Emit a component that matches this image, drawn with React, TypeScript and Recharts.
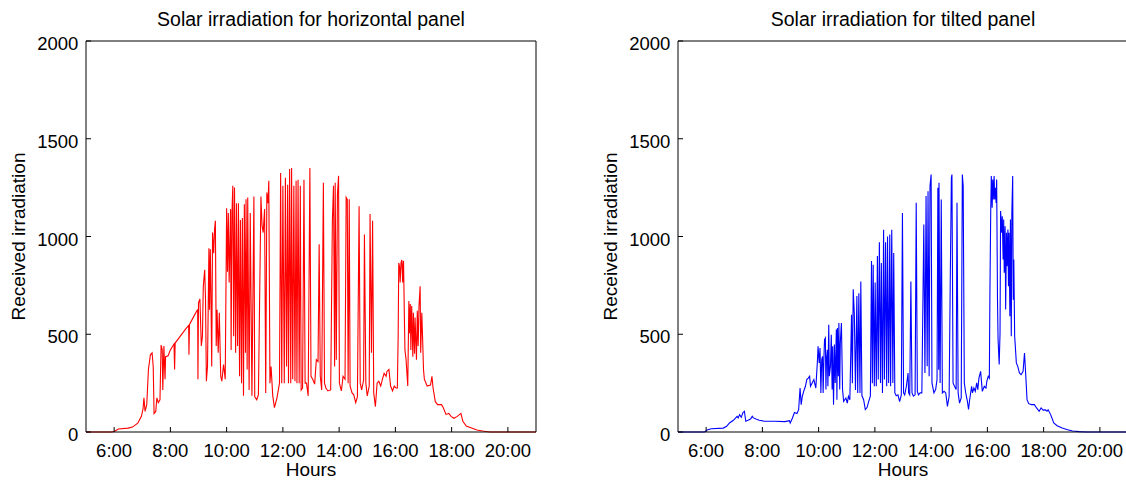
import { LineChart, Line, XAxis, YAxis } from "recharts";

const HOUR_TICKS = [6, 8, 10, 12, 14, 16, 18, 20];
const IRRADIATION_TICKS = [0, 500, 1000, 1500, 2000];

// horizontal panel: sample times (decimal hours) and received irradiation
const horizontalHours = [
  5.0, 5.9, 6.0, 6.15, 6.5, 6.65, 6.84, 6.97, 7.03, 7.06, 7.1, 7.16, 7.22, 7.29, 7.35, 7.39,
  7.42, 7.48, 7.52, 7.57, 7.63, 7.67, 7.71, 7.73, 7.77, 7.81, 7.83, 7.92, 8.0, 8.13, 8.15, 8.17,
  8.3, 8.56, 8.65, 8.66, 8.68, 8.81, 8.94, 8.97, 8.98, 9.0, 9.05, 9.1, 9.14, 9.17, 9.22, 9.25,
  9.28, 9.32, 9.37, 9.39, 9.42, 9.44, 9.47, 9.5, 9.54, 9.57, 9.6, 9.63, 9.66, 9.7, 9.74, 9.79,
  9.83, 9.89, 9.95, 10.0, 10.03, 10.06, 10.09, 10.14, 10.16, 10.19, 10.22, 10.25, 10.28, 10.32, 10.35, 10.39,
  10.42, 10.46, 10.49, 10.53, 10.56, 10.6, 10.63, 10.67, 10.69, 10.73, 10.75, 10.8, 10.84, 10.9, 10.97, 11.0,
  11.07, 11.13, 11.22, 11.26, 11.3, 11.35, 11.39, 11.43, 11.47, 11.5, 11.54, 11.58, 11.64, 11.7, 11.79, 11.88,
  11.92, 11.96, 12.0, 12.05, 12.09, 12.13, 12.17, 12.2, 12.24, 12.28, 12.31, 12.35, 12.39, 12.43, 12.47, 12.5,
  12.54, 12.58, 12.62, 12.65, 12.7, 12.75, 12.79, 12.84, 12.9, 12.96, 13.0, 13.06, 13.13, 13.19, 13.25, 13.29,
  13.33, 13.38, 13.44, 13.48, 13.53, 13.6, 13.7, 13.76, 13.8, 13.84, 13.86, 13.9, 13.94, 13.98, 14.01, 14.08,
  14.14, 14.21, 14.25, 14.29, 14.32, 14.36, 14.39, 14.46, 14.52, 14.59, 14.65, 14.71, 14.75, 14.8, 14.87, 14.9,
  14.95, 15.0, 15.07, 15.1, 15.15, 15.19, 15.23, 15.29, 15.35, 15.41, 15.48, 15.54, 15.6, 15.67, 15.7, 15.77,
  15.83, 15.9, 15.96, 16.02, 16.07, 16.1, 16.12, 16.15, 16.17, 16.2, 16.23, 16.26, 16.28, 16.29, 16.32, 16.34,
  16.38, 16.44, 16.48, 16.5, 16.53, 16.55, 16.58, 16.62, 16.64, 16.68, 16.7, 16.75, 16.78, 16.81, 16.84, 16.88,
  16.9, 16.94, 16.97, 17.0, 17.03, 17.13, 17.25, 17.3, 17.34, 17.42, 17.5, 17.64, 17.7, 17.8, 17.9, 17.98,
  18.08, 18.2, 18.33, 18.4, 18.52, 18.71, 18.9, 19.1, 19.35, 21.0,
];
const horizontalIrradiation = [
  0, 0, 3, 15, 20, 25, 45, 80, 120, 175, 105, 140, 320, 395, 405, 335,
  95, 105, 175, 150, 165, 445, 420, 215, 440, 270, 385, 390, 420, 450, 320, 455,
  480, 530, 545, 395, 550, 585, 620, 625, 270, 660, 680, 440, 490, 745, 830, 675,
  260, 335, 940, 625, 935, 730, 335, 1020, 915, 1035, 1080, 440, 625, 405, 610, 285,
  260, 345, 270, 1145, 820, 1120, 765, 1140, 420, 1120, 1260, 490, 1250, 405, 1170, 440,
  1170, 285, 1085, 250, 1095, 185, 1165, 405, 1190, 320, 1200, 215, 1120, 185, 1205, 180,
  165, 190, 1205, 1055, 1020, 1140, 200, 1225, 1170, 1285, 250, 335, 185, 125, 175, 250,
  1325, 250, 1260, 250, 1300, 335, 1265, 250, 1345, 250, 1350, 270, 1260, 260, 1285, 250,
  1290, 250, 1260, 215, 225, 1290, 250, 250, 185, 1350, 285, 270, 245, 370, 360, 960,
  285, 215, 1275, 250, 225, 210, 215, 1080, 1260, 335, 1275, 370, 1215, 1310, 250, 210,
  285, 270, 1200, 1190, 250, 1190, 235, 200, 190, 150, 180, 1155, 250, 215, 265, 1010,
  250, 185, 235, 1115, 405, 1080, 200, 130, 250, 260, 235, 270, 300, 285, 310, 320,
  235, 210, 235, 225, 225, 505, 865, 845, 765, 865, 880, 765, 865, 875, 590, 420,
  370, 235, 670, 505, 655, 420, 645, 385, 610, 400, 585, 370, 620, 440, 645, 745,
  405, 610, 470, 320, 270, 235, 240, 285, 225, 155, 140, 140, 125, 90, 95, 80,
  70, 80, 95, 55, 30, 20, 10, 5, 0, 0,
];

// tilted panel: sample times (decimal hours) and received irradiation
const tiltedHours = [
  5.0, 5.94, 6.06, 6.18, 6.61, 6.73, 6.83, 6.97, 7.1, 7.14, 7.19, 7.25, 7.31, 7.36, 7.41, 7.49,
  7.58, 7.64, 7.68, 7.77, 7.89, 8.07, 8.43, 8.8, 8.96, 8.99, 9.07, 9.14, 9.23, 9.29, 9.34, 9.38,
  9.42, 9.47, 9.53, 9.58, 9.63, 9.68, 9.71, 9.77, 9.83, 9.9, 9.96, 9.98, 10.02, 10.05, 10.08, 10.11,
  10.14, 10.16, 10.19, 10.21, 10.24, 10.26, 10.28, 10.31, 10.33, 10.36, 10.38, 10.42, 10.45, 10.48, 10.5, 10.53,
  10.56, 10.59, 10.63, 10.65, 10.67, 10.7, 10.72, 10.75, 10.77, 10.81, 10.85, 10.89, 10.97, 11.02, 11.06, 11.11,
  11.17, 11.2, 11.23, 11.27, 11.31, 11.36, 11.39, 11.43, 11.47, 11.5, 11.54, 11.6, 11.66, 11.72, 11.78, 11.84,
  11.88, 11.91, 11.94, 11.98, 12.01, 12.05, 12.09, 12.12, 12.16, 12.2, 12.23, 12.27, 12.31, 12.34, 12.38, 12.42,
  12.45, 12.49, 12.53, 12.56, 12.6, 12.64, 12.67, 12.71, 12.76, 12.82, 12.88, 12.94, 12.98, 13.02, 13.06, 13.12,
  13.18, 13.2, 13.24, 13.28, 13.32, 13.37, 13.43, 13.47, 13.51, 13.55, 13.61, 13.67, 13.74, 13.78, 13.82, 13.86,
  13.89, 13.93, 13.96, 14.0, 14.03, 14.1, 14.16, 14.21, 14.24, 14.27, 14.28, 14.32, 14.36, 14.4, 14.46, 14.52,
  14.58, 14.64, 14.68, 14.72, 14.74, 14.78, 14.83, 14.89, 14.92, 14.96, 15.01, 15.07, 15.11, 15.14, 15.18, 15.23,
  15.29, 15.33, 15.37, 15.44, 15.47, 15.52, 15.57, 15.62, 15.66, 15.7, 15.76, 15.82, 15.89, 15.95, 15.98, 16.03,
  16.07, 16.09, 16.12, 16.14, 16.17, 16.19, 16.21, 16.24, 16.26, 16.29, 16.31, 16.33, 16.36, 16.38, 16.42, 16.45,
  16.47, 16.51, 16.53, 16.56, 16.58, 16.6, 16.63, 16.65, 16.68, 16.7, 16.73, 16.75, 16.77, 16.8, 16.82, 16.85,
  16.87, 16.9, 16.92, 16.94, 16.97, 16.99, 17.03, 17.08, 17.14, 17.2, 17.27, 17.32, 17.36, 17.41, 17.47, 17.57,
  17.67, 17.75, 17.84, 17.91, 17.99, 18.05, 18.12, 18.16, 18.25, 18.36, 18.48, 18.66, 18.85, 19.03, 19.27, 19.51,
  21.0,
];
const tiltedIrradiation = [
  0, 0, 12, 17, 20, 29, 46, 60, 80, 72, 89, 75, 100, 106, 55, 60,
  66, 80, 72, 66, 60, 55, 55, 53, 58, 46, 72, 100, 95, 114, 225, 140,
  183, 208, 234, 268, 276, 285, 234, 251, 268, 225, 370, 438, 353, 430, 200, 370,
  387, 200, 387, 473, 481, 217, 370, 421, 234, 549, 285, 336, 498, 217, 438, 140,
  447, 251, 524, 165, 532, 285, 558, 217, 455, 558, 217, 157, 174, 148, 183, 165,
  600, 250, 730, 600, 215, 695, 200, 710, 200, 770, 185, 165, 115, 125, 155, 185,
  875, 250, 855, 234, 765, 234, 900, 268, 970, 251, 865, 200, 1035, 268, 970, 234,
  1000, 251, 1010, 234, 1035, 251, 915, 200, 185, 190, 155, 190, 1120, 200, 190, 234,
  302, 200, 190, 770, 200, 183, 190, 1172, 208, 190, 200, 200, 1061, 302, 1207, 336,
  1232, 285, 1258, 1317, 251, 200, 217, 268, 1249, 319, 1275, 251, 1189, 200, 208, 200,
  131, 183, 770, 1300, 1317, 251, 234, 217, 1172, 200, 148, 174, 1317, 1258, 251, 200,
  157, 115, 165, 234, 200, 225, 208, 251, 217, 276, 310, 208, 234, 225, 259, 285,
  276, 703, 1138, 1309, 1147, 1292, 1189, 1309, 1189, 1249, 1172, 1292, 677, 473, 345, 507,
  1130, 1019, 1104, 882, 1087, 814, 1053, 626, 1019, 848, 1036, 746, 1019, 592, 1087, 490,
  1121, 1309, 677, 882, 490, 447, 353, 336, 302, 293, 310, 404, 302, 165, 145, 140,
  140, 123, 106, 123, 111, 114, 106, 114, 89, 46, 32, 20, 12, 5, 2, 0,
  0,
];

const FONT = "'Liberation Sans', Arial, Helvetica, sans-serif";

const toRows = (hours: number[], values: number[]) =>
  hours
    .map((hour, i) => ({ hour, value: values[i] }))
    .filter((row) => row.value !== undefined);

const formatHour = (h: number) => `${h}:00`;

interface PanelProps {
  title: string;
  hours: number[];
  values: number[];
  color: string;
  left: number;
}

// one boxed panel: bottom/left axes carry labels, top/right axes only add inward ticks
function IrradiationPanel({ title, hours, values, color, left }: PanelProps) {
  const data = toRows(hours, values);
  return (
    <div style={{ position: "absolute", left, top: 0 }}>
      <LineChart
        width={560}
        height={480}
        data={data}
        margin={{ top: 40, right: 23, bottom: 0, left: 0 }}
        style={{ fontFamily: FONT }}
      >
        <XAxis
          xAxisId="bottom"
          dataKey="hour"
          type="number"
          domain={[5, 21]}
          ticks={HOUR_TICKS}
          interval={0}
          tickFormatter={formatHour}
          height={48}
          tickSize={-5}
          tickMargin={16.6}
          stroke="#000"
          tick={{ fill: "#000", fontSize: 18.5 }}
          label={{ value: "Hours", position: "insideBottom", offset: 4, fill: "#000", fontSize: 19 }}
        />
        <XAxis
          xAxisId="top"
          orientation="top"
          dataKey="hour"
          type="number"
          domain={[5, 21]}
          ticks={HOUR_TICKS}
          interval={0}
          height={1}
          tickSize={-5}
          tick={false}
          stroke="#000"
          label={{ value: title, position: "top", offset: 14, fill: "#000", fontSize: 19.5 }}
        />
        <YAxis
          yAxisId="left"
          type="number"
          domain={[0, 2000]}
          ticks={IRRADIATION_TICKS}
          interval={0}
          width={86}
          tickSize={-5}
          tickMargin={12.7}
          stroke="#000"
          tick={{ fill: "#000", fontSize: 18.5, dy: 2.5 }}
          label={{
            value: "Received irradiation",
            angle: -90,
            position: "insideLeft",
            offset: 18,
            fill: "#000",
            fontSize: 19,
            style: { textAnchor: "middle" },
          }}
        />
        <YAxis
          yAxisId="right"
          orientation="right"
          type="number"
          domain={[0, 2000]}
          ticks={IRRADIATION_TICKS}
          interval={0}
          width={1}
          tickSize={-5}
          tick={false}
          stroke="#000"
        />
        <Line
          xAxisId="bottom"
          yAxisId="left"
          dataKey="value"
          type="linear"
          stroke={color}
          strokeWidth={1.1}
          dot={false}
          activeDot={false}
          isAnimationActive={false}
        />
      </LineChart>
    </div>
  );
}

export default function App() {
  return (
    <div
      style={{
        position: "absolute",
        left: 0,
        top: 0,
        width: 1126,
        height: 480,
        overflow: "hidden",
        background: "#fff",
      }}
    >
      <IrradiationPanel
        title="Solar irradiation for horizontal panel"
        hours={horizontalHours}
        values={horizontalIrradiation}
        color="#ff0000"
        left={0}
      />
      <IrradiationPanel
        title="Solar irradiation for tilted panel"
        hours={tiltedHours}
        values={tiltedIrradiation}
        color="#0000ff"
        left={592}
      />
    </div>
  );
}
